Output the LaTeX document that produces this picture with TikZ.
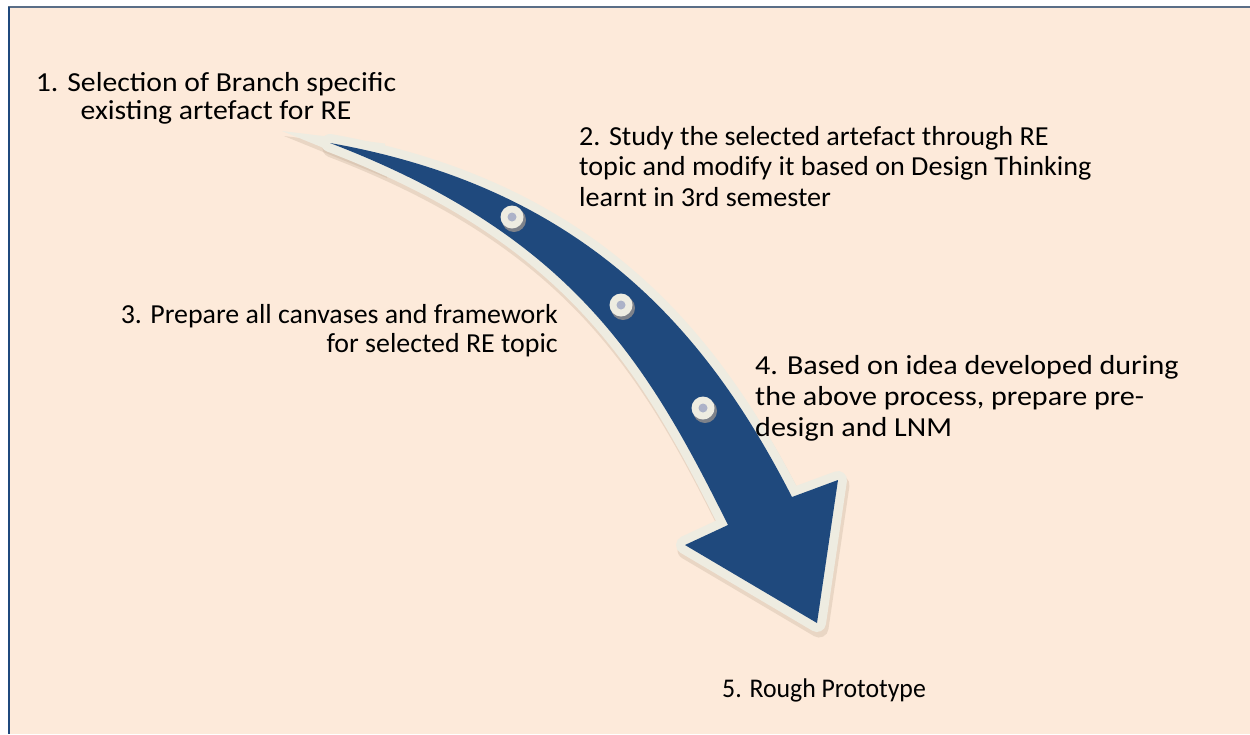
\documentclass[tikz,border=0pt]{standalone}
\usepackage{fontspec}
\setmainfont{Carlito}
\definecolor{bgpeach}{RGB}{253,234,218}
\definecolor{arrowblue}{RGB}{31,73,125}
\definecolor{cream}{RGB}{238,236,225}
\definecolor{dotgray}{RGB}{172,178,200}
\definecolor{leftline}{RGB}{31,73,125}
\definecolor{topline}{RGB}{90,110,135}
\definecolor{shadowc}{RGB}{190,168,148}
\tikzset{
  lbl/.style={inner sep=0pt, text=black},
  stepdot/.style={circle, fill=cream, minimum size=23pt, inner sep=0pt},
}
\newcommand{\itemfont}[3]{\fontsize{#1}{#2}\selectfont\addfontfeature{FakeStretch=#3}}
\begin{document}
\begin{tikzpicture}[x=1pt,y=-1pt]
\useasboundingbox (0,0) rectangle (1250,734);
\fill[white] (0,0) rectangle (1250,734);
\fill[bgpeach] (9,7) rectangle (1250,734);
\draw[topline, line width=1.5pt] (8,7) -- (1250,7);
\draw[leftline, line width=2.5pt] (9,7) -- (9,734);

% shadow of the arrow
\begin{scope}[shift={(2,5)}]
\filldraw[shadowc, opacity=0.3, line width=19pt, line join=round]
  (330,143) .. controls (590,189) and (710,337) .. (792,497) -- (838,480) -- (817,623) -- (685,545) -- (728,525) .. controls (648,364) and (573,236) .. cycle;
\fill[shadowc, opacity=0.3] (282,131) -- (385,143.5) -- (385,173) -- cycle;
\end{scope}
% cream border
\filldraw[cream, line width=18pt, line join=round]
  (330,143) .. controls (590,189) and (710,337) .. (792,497) -- (838,480) -- (817,623) -- (685,545) -- (728,525) .. controls (648,364) and (573,236) .. cycle;
\fill[cream] (282,131) -- (385,143.5) -- (385,173) -- cycle;
% blue body
\fill[arrowblue]
  (330,143) .. controls (590,189) and (710,337) .. (792,497) -- (838,480) -- (817,623) -- (685,545) -- (728,525) .. controls (648,364) and (573,236) .. cycle;

% dots
\foreach \p/\n in {{(512,217)}/d1, {(621,305)}/d2, {(703,408)}/d3} {
  \fill[shadowc, opacity=0.6] \p ++(2,3) circle (12);
  \node[stepdot] (\n) at \p {};
  \fill[dotgray] (\n.center) circle (4.5);
}

\node[lbl, font=\itemfont{27.5}{28}{1.08}, align=center, anchor=base] (t1) at (216,119) {1. Selection of Branch specific\\existing artefact for RE};
\node[lbl, font=\itemfont{27.5}{30.5}{1.024}, align=left, anchor=base west] (t2) at (579,206) {2. Study the selected artefact through RE\\topic and modify it based on Design Thinking\\learnt in 3rd semester};
\node[lbl, font=\itemfont{27.5}{29}{1.015}, align=right, anchor=base east] (t3) at (558,352) {3. Prepare all canvases and framework\\for selected RE topic};
\node[lbl, font=\itemfont{27.5}{31}{1.094}, align=left, anchor=base west] (t4) at (755,436) {4. Based on idea developed during\\the above process, prepare pre-\\design and LNM};
\node[lbl, font=\itemfont{27}{30}{0.955}, anchor=base west] (t5) at (722,697) {5. Rough Prototype};
\end{tikzpicture}
\end{document}
